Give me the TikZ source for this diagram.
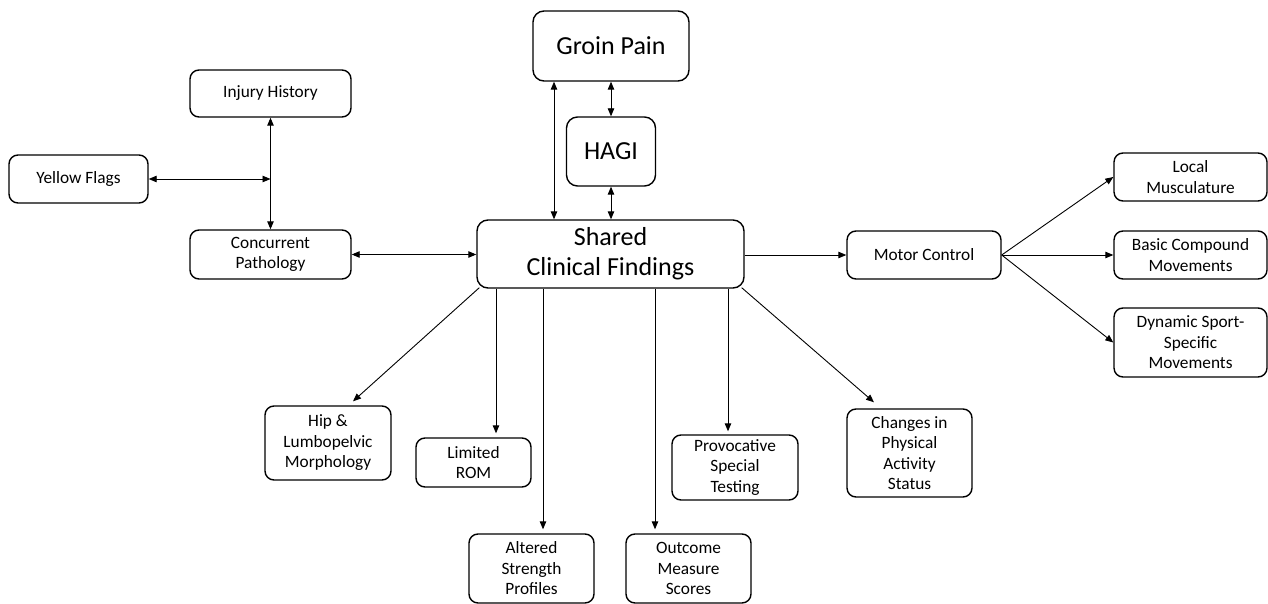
\documentclass[tikz,border=0pt]{standalone}
\usepackage{fontspec}
\setmainfont{Carlito}
\usetikzlibrary{arrows.meta,calc}
\begin{document}
\begin{tikzpicture}[x=1pt,y=-1pt,
 box/.style={draw, line width=1.4pt, rounded corners=9pt, align=center, inner sep=0pt, font=\fontsize{17.3}{20.5}\selectfont},
 bigbox/.style={box, rounded corners=11pt, font=\fontsize{26}{30}\selectfont},
 tip/.tip={Triangle[length=8pt,width=6.5pt]},
 arr/.style={-tip, line width=0.9pt},
 dbl/.style={tip-tip, line width=0.9pt}]
\useasboundingbox (0,0) rectangle (1268,604);

% central column
\node[bigbox, minimum width=156pt, minimum height=70pt] (groin) at (611,46) {Groin Pain};
\node[bigbox, minimum width=89pt, minimum height=69pt] (hagi) at (611,151.5) {HAGI};
\node[bigbox, minimum width=267pt, minimum height=68pt] (shared) at (610.5,254) {Shared\\Clinical Findings};

% left group
\node[box, minimum width=161pt, minimum height=47pt] (injury) at (270.5,93.5) {Injury History};
\node[box, minimum width=139pt, minimum height=48pt] (yellow) at (78.5,179) {Yellow Flags};
\node[box, minimum width=161pt, minimum height=49pt] (concurrent) at (270.5,254.5) {Concurrent\\Pathology};

% right group
\node[box, minimum width=154pt, minimum height=48pt] (motor) at (924,255) {Motor Control};
\node[box, minimum width=153pt, minimum height=48pt] (local) at (1190.5,177) {Local\\Musculature};
\node[box, minimum width=153pt, minimum height=48pt] (basic) at (1190.5,255) {Basic Compound\\Movements};
\node[box, minimum width=153pt, minimum height=69pt] (dynamic) at (1190.5,342.5) {Dynamic Sport-\\Specific\\Movements};

% bottom group
\node[box, minimum width=126pt, minimum height=74pt] (hip) at (328,443) {Hip \&\\Lumbopelvic\\Morphology};
\node[box, minimum width=115pt, minimum height=49pt] (rom) at (473.5,462.5) {Limited\\ROM};
\node[box, minimum width=125pt, minimum height=69pt] (altered) at (531.5,568.5) {Altered\\Strength\\Profiles};
\node[box, minimum width=125pt, minimum height=69pt] (outcome) at (688.5,568.5) {Outcome\\Measure\\Scores};
\node[box, minimum width=126pt, minimum height=65pt] (provocative) at (735,467.5) {Provocative\\Special\\Testing};
\node[box, minimum width=125pt, minimum height=88pt] (changes) at (909.5,453) {Changes in\\Physical\\Activity\\Status};

% helper coordinates
\coordinate (x554) at (554,0);
\coordinate (junction) at (injury.south |- yellow.east);
\coordinate (romtop) at ($(rom.north)+(22.5,-4)$);
\coordinate (alttop) at ($(altered.north)+(11.5,-4)$);
\coordinate (outtop) at ($(outcome.north)+(-33.5,-4)$);
\coordinate (provtop) at ($(provocative.north)+(-7,-3)$);
\coordinate (hiptop) at ($(hip.north)+(25,-4)$);
\coordinate (chgtop) at ($(changes.north)+(-35.5,-6)$);
\coordinate (sharedsw) at ($(shared.south west)+(3,-1)$);
\coordinate (sharedse) at ($(shared.south east)+(-3,-1)$);

% connectors
\draw[dbl] (groin.south -| x554) -- (shared.north -| x554);
\draw[dbl] (groin.south) -- (hagi.north);
\draw[dbl] (hagi.south) -- (hagi.south |- shared.north);
\draw[dbl] (injury.south) -- (concurrent.north);
\draw[dbl] (yellow.east) -- (junction);
\draw[dbl] (concurrent.east) -- (concurrent.east -| shared.west);
\draw[arr] (motor.west -| shared.east) -- (motor.west);
\draw[arr] (motor.east) -- (local.west);
\draw[arr] (motor.east) -- (basic.west);
\draw[arr] (motor.east) -- (dynamic.west);
\draw[arr] (sharedsw) -- (hiptop);
\draw[arr] (shared.south -| romtop) -- (romtop);
\draw[arr] (shared.south -| alttop) -- (alttop);
\draw[arr] (shared.south -| outtop) -- (outtop);
\draw[arr] (shared.south -| provtop) -- (provtop);
\draw[arr] (sharedse) -- (chgtop);
\end{tikzpicture}
\end{document}
